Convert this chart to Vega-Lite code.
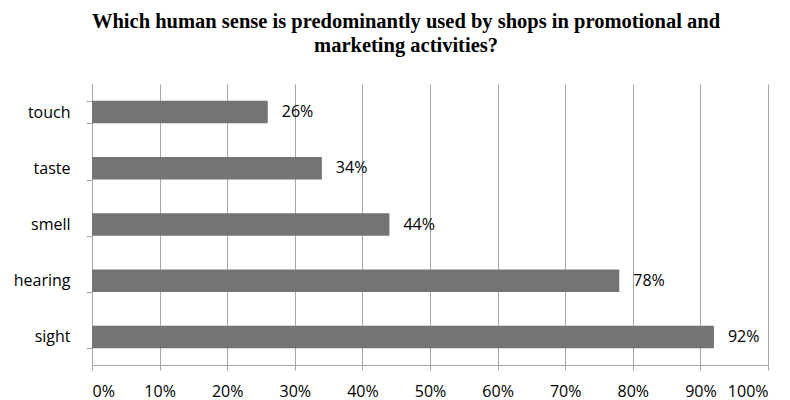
{
  "$schema": "https://vega.github.io/schema/vega-lite/v6.json",
  "width": 676,
  "height": 281,
  "autosize": "none",
  "padding": {"left": 92, "top": 84, "right": 22, "bottom": 35},
  "background": "white",
  "title": {
    "text": ["Which human sense is predominantly used by shops in promotional and", "marketing activities?"],
    "font": "Liberation Serif",
    "fontSize": 20.5,
    "fontWeight": "bold",
    "color": "black",
    "anchor": "middle",
    "dx": -24,
    "lineHeight": 24,
    "offset": 20
  },
  "data": {
    "values": [
      {"sense": "touch", "value": 0.26},
      {"sense": "taste", "value": 0.34},
      {"sense": "smell", "value": 0.44},
      {"sense": "hearing", "value": 0.78},
      {"sense": "sight", "value": 0.92}
    ]
  },
  "config": {
    "view": {"stroke": null},
    "axis": {
      "labelFont": "Open Sans",
      "labelFontSize": 16,
      "labelColor": "black",
      "domainColor": "#a6a6a6",
      "tickColor": "#a6a6a6",
      "gridColor": "#a6a6a6",
      "title": null
    }
  },
  "encoding": {
    "y": {
      "field": "sense",
      "type": "nominal",
      "sort": ["touch", "taste", "smell", "hearing", "sight"],
      "scale": {"paddingInner": 0.6, "paddingOuter": 0.3},
      "axis": {"tickBand": "extent", "tickSize": 6, "labelPadding": 16, "grid": false}
    },
    "x": {
      "field": "value",
      "type": "quantitative",
      "scale": {"domain": [0, 1], "nice": false},
      "axis": {"format": ".0%", "values": [0, 0.1, 0.2, 0.3, 0.4, 0.5, 0.6, 0.7, 0.8, 0.9, 1], "grid": true, "tickSize": 5, "labelPadding": 13}
    }
  },
  "layer": [
    {"mark": {"type": "bar", "color": "#747474"}},
    {
      "mark": {"type": "text", "align": "left", "dx": 14, "font": "Open Sans", "fontSize": 16, "color": "black"},
      "encoding": {"text": {"field": "value", "format": ".0%"}}
    }
  ]
}
